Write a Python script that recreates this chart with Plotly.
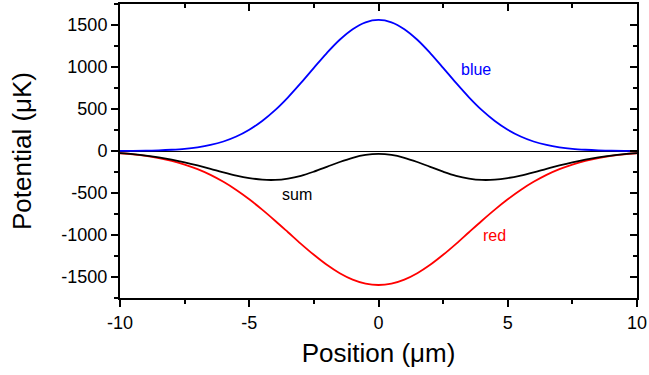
import plotly.graph_objects as go

# Position (um)
position = [-10, -9.5, -9, -8.5, -8, -7.5, -7, -6.5, -6, -5.5, -5, -4.5, -4, -3.5, -3, -2.5, -2, -1.5, -1, -0.5,
            0, 0.5, 1, 1.5, 2, 2.5, 3, 3.5, 4, 4.5, 5, 5.5, 6, 6.5, 7, 7.5, 8, 8.5, 9, 9.5, 10]

blue_half = [1560, 1532, 1450, 1324, 1166, 990, 810, 639, 486, 357, 253, 172, 113, 72, 44, 26, 15, 8, 4, 2, 1]
red_half = [-1595, -1579, -1531, -1455, -1355, -1236, -1105, -967, -830, -698, -575, -464, -367, -284, -216,
            -161, -117, -84, -58, -40, -27]
sum_half = [-35, -47, -81, -131, -189, -246, -295, -328, -344, -341, -322, -292, -254, -212, -172, -135, -102,
            -76, -54, -38, -26]

blue = blue_half[::-1] + blue_half[1:]
red = red_half[::-1] + red_half[1:]
total = sum_half[::-1] + sum_half[1:]

labels = ["blue", "sum", "red"]
label_x = [3.77, -3.15, 4.49]
label_y = [976, -512, -1000]
label_colors = ["#0000FF", "#000000", "#FF0000"]

x_ticks = [-10, -5, 0, 5, 10]
x_ticktext = ["-10", "-5", "0", "5", "10"]
y_ticks = [-1500, -1000, -500, 0, 500, 1000, 1500]
y_ticktext = ["-1500", "-1000", "-500", "0", "500", "1000", "1500"]

FONT = "Liberation Sans, Arial, Helvetica, sans-serif"

fig = go.Figure()
fig.add_trace(go.Scatter(x=position, y=blue, mode="lines", line=dict(color="#0000FF", width=1.8, shape="spline"),
                         showlegend=False, hoverinfo="skip"))
fig.add_trace(go.Scatter(x=position, y=red, mode="lines", line=dict(color="#FF0000", width=1.8, shape="spline"),
                         showlegend=False, hoverinfo="skip"))
fig.add_trace(go.Scatter(x=position, y=total, mode="lines", line=dict(color="#000000", width=1.8, shape="spline"),
                         showlegend=False, hoverinfo="skip"))
# carrier for the mirrored (top/right) axes
fig.add_trace(go.Scatter(x=[None], y=[None], xaxis="x2", yaxis="y2", showlegend=False, hoverinfo="skip"))

for t, xx, yy, c in zip(labels, label_x, label_y, label_colors):
    fig.add_annotation(x=xx, y=yy, text=t, showarrow=False, font=dict(family=FONT, size=16, color=c))

xr = [x_ticks[0], x_ticks[-1]]
yr = [-1750, 1750]

fig.update_layout(
    width=649, height=375,
    margin=dict(l=120, r=12, t=4, b=77),
    paper_bgcolor="white", plot_bgcolor="white",
    font=dict(family=FONT, color="black"),
    xaxis=dict(range=xr, tickvals=x_ticks, ticktext=x_ticktext, ticks="outside", ticklen=7, tickwidth=1.5,
               tickcolor="black", automargin=False,
               minor=dict(dtick=2.5, tick0=-10, ticks="outside", ticklen=4, tickwidth=1.5, tickcolor="black"),
               showline=True, linewidth=2, linecolor="black", showgrid=False, zeroline=False,
               tickfont=dict(size=18, family=FONT),
               title=dict(text="Position (μm)", font=dict(size=26, family=FONT), standoff=12)),
    yaxis=dict(range=yr, tickvals=y_ticks, ticktext=y_ticktext, ticks="outside", ticklen=7, tickwidth=1.5,
               tickcolor="black", automargin=False,
               minor=dict(dtick=250, tick0=0, ticks="outside", ticklen=4, tickwidth=1.5, tickcolor="black"),
               showline=True, linewidth=2, linecolor="black", showgrid=False,
               zeroline=True, zerolinecolor="black", zerolinewidth=1,
               tickfont=dict(size=18, family=FONT),
               title=dict(text="Potential (μK)", font=dict(size=26, family=FONT), standoff=22)),
    xaxis2=dict(range=xr, overlaying="x", side="top", anchor="y2", tickvals=x_ticks, ticks="inside", ticklen=7,
                tickwidth=1.5, tickcolor="black", automargin=False,
                minor=dict(dtick=2.5, tick0=-10, ticks="inside", ticklen=4, tickwidth=1.5, tickcolor="black"),
                showticklabels=False, showline=True, linewidth=1.5, linecolor="black", showgrid=False,
                zeroline=False),
    yaxis2=dict(range=yr, overlaying="y", side="right", anchor="x2", tickvals=y_ticks, ticks="inside", ticklen=7,
                tickwidth=1.5, tickcolor="black", automargin=False,
                minor=dict(dtick=250, tick0=0, ticks="inside", ticklen=4, tickwidth=1.5, tickcolor="black"),
                showticklabels=False, showline=True, linewidth=2, linecolor="black", showgrid=False,
                zeroline=False),
)

fig.write_html("out.html", config={"displayModeBar": False},
               post_script="document.body.style.margin='0px';")
